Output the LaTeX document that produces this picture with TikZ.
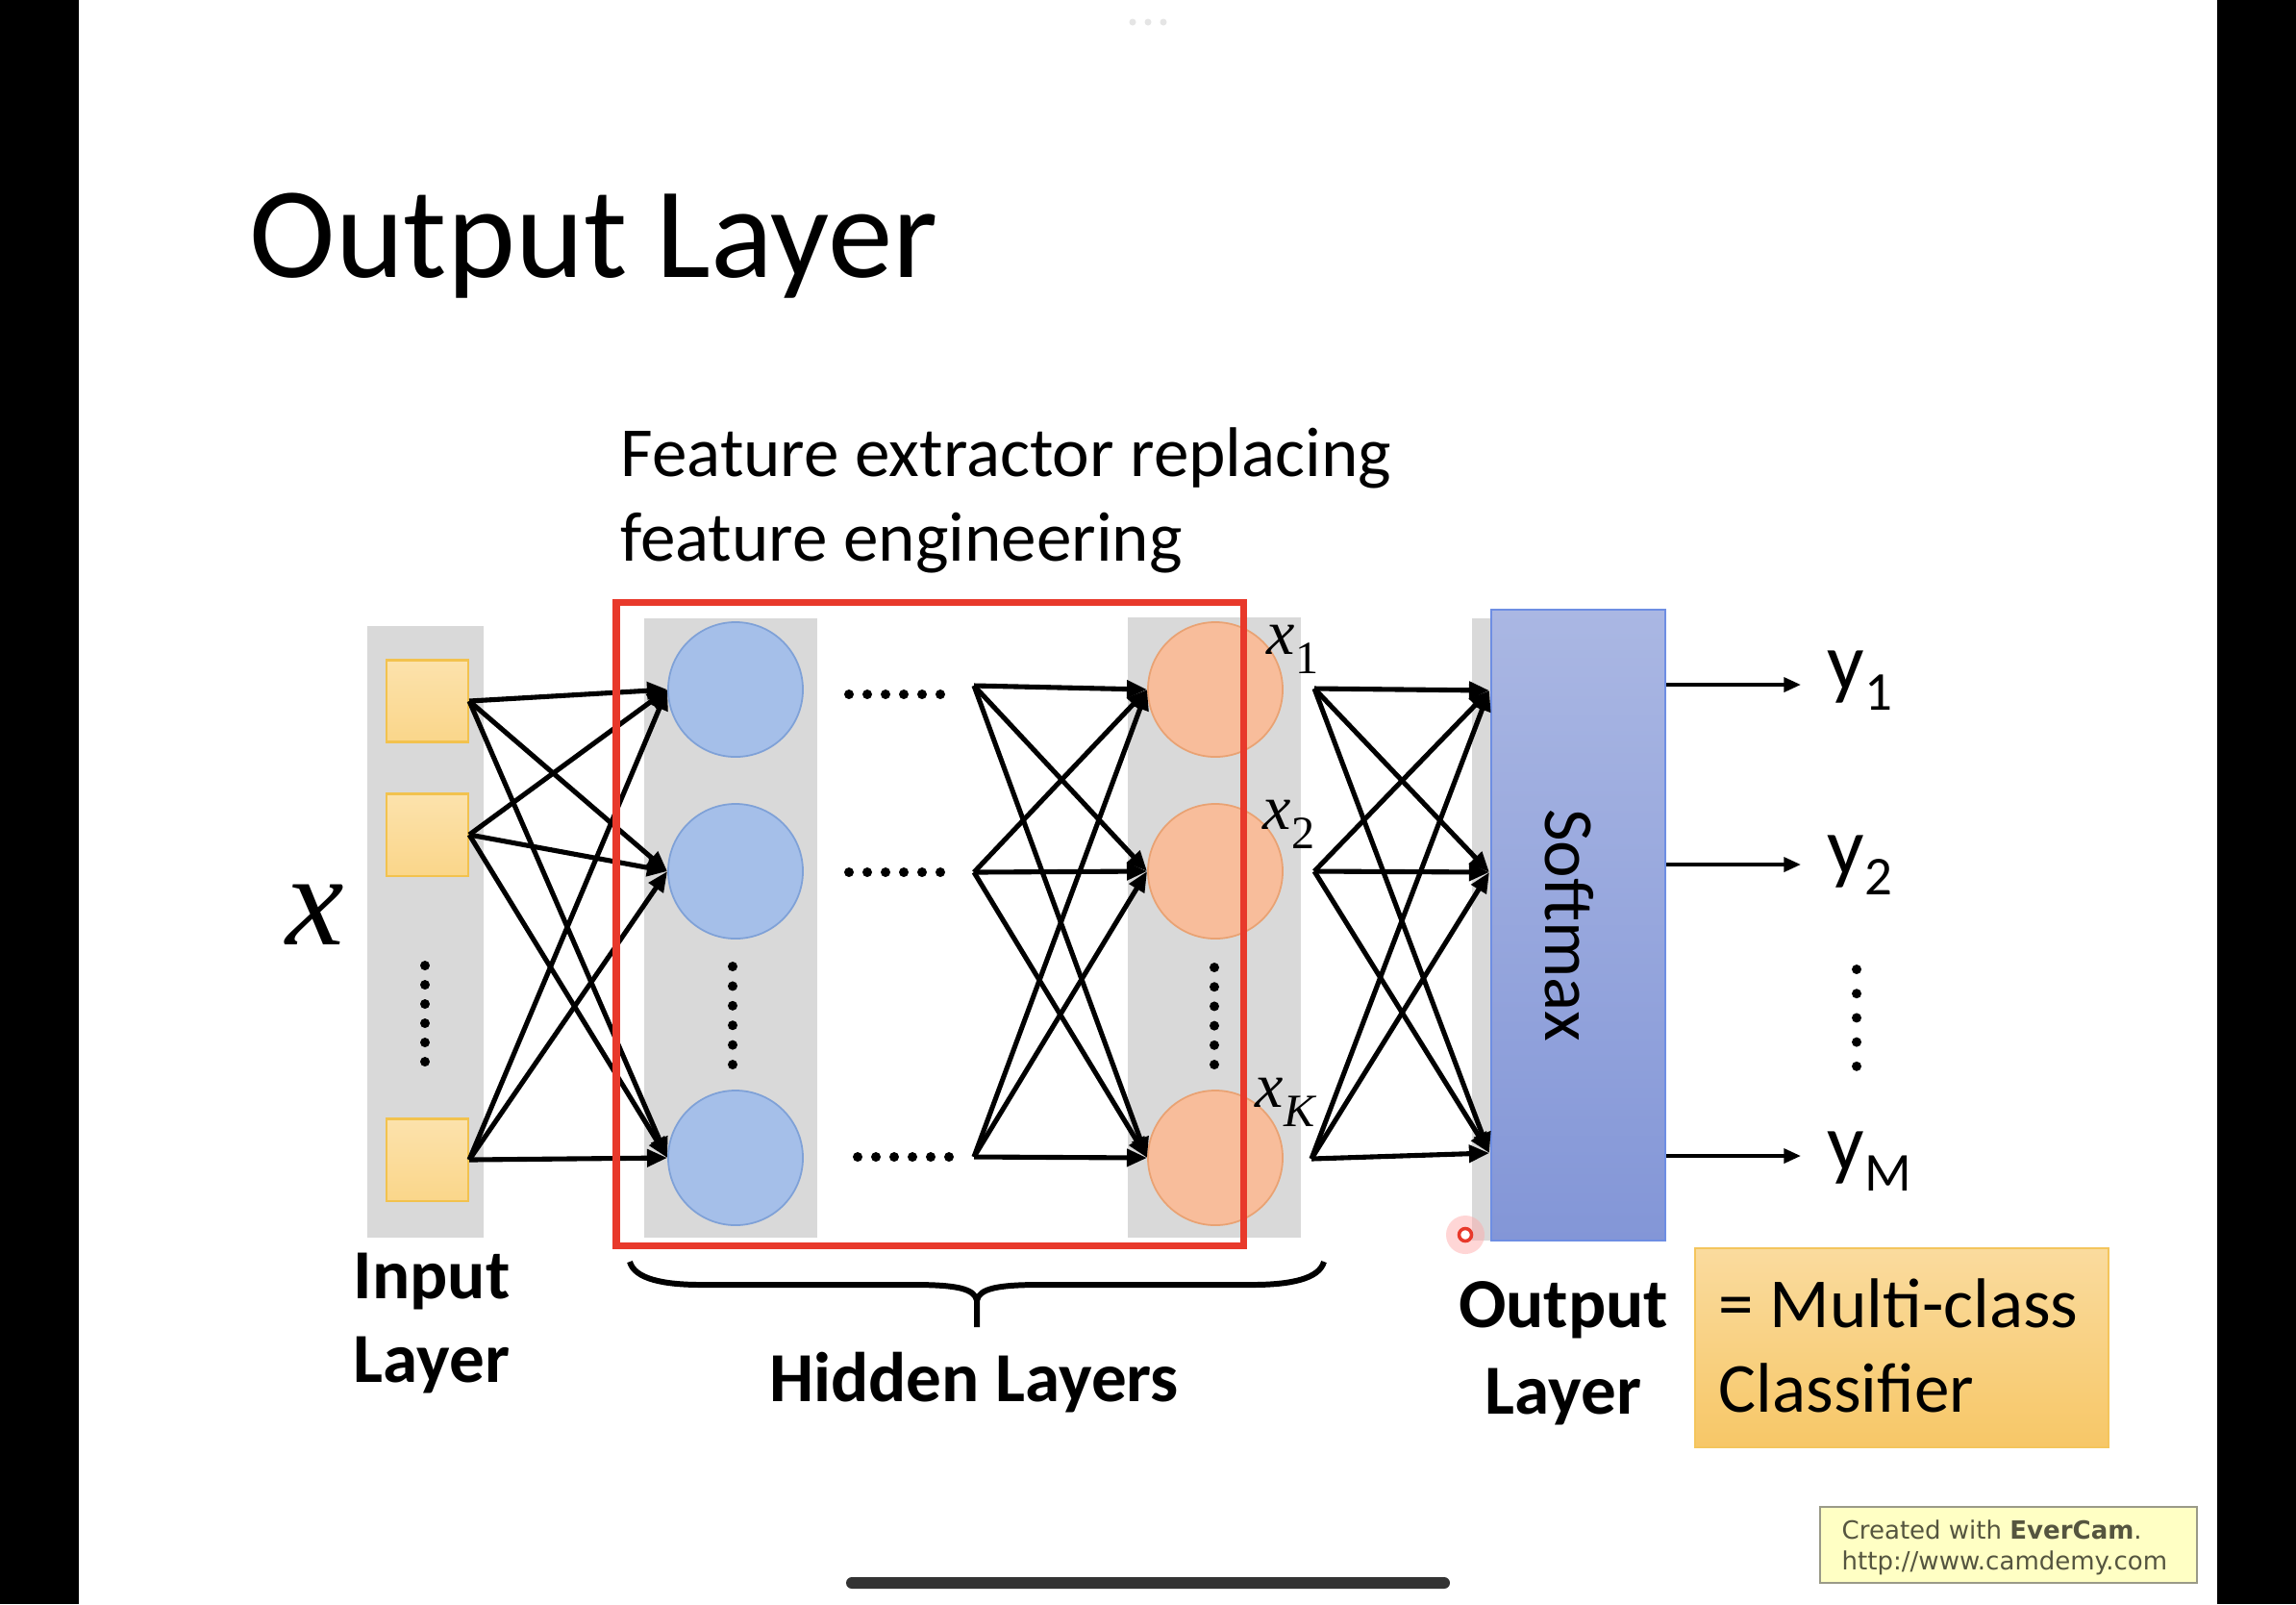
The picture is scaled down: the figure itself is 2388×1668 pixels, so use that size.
\documentclass[tikz,border=0pt]{standalone}
\usepackage{fontspec}
\setmainfont{Carlito}
\newfontfamily\tnr{Liberation Serif}
\newfontfamily\dvs{DejaVu Sans}
\usetikzlibrary{arrows.meta,calc}
\definecolor{colgray}{HTML}{D9D9D9}
\definecolor{sqfill}{HTML}{FAD68A}
\definecolor{sqtop}{HTML}{FCE2AC}
\definecolor{sqdraw}{HTML}{F2C24E}
\definecolor{bluefill}{HTML}{A5BFE9}
\definecolor{bluedraw}{HTML}{7FA1D7}
\definecolor{orfill}{HTML}{F8BD9B}
\definecolor{ordraw}{HTML}{E9A273}
\definecolor{smtop}{HTML}{AAB7E3}
\definecolor{smbot}{HTML}{8396D7}
\definecolor{smdraw}{HTML}{6E8EE3}
\definecolor{redbox}{HTML}{E8392B}
\definecolor{mctop}{HTML}{FADB9E}
\definecolor{mcbot}{HTML}{F7C767}
\definecolor{mcdraw}{HTML}{F4C55C}
\definecolor{ecfill}{HTML}{FFFFC4}
\definecolor{ecdraw}{HTML}{9A9A88}
\definecolor{ectext}{HTML}{55553F}
\begin{document}
\begin{tikzpicture}[x=0.01cm,y=-0.01cm,
  sqnode/.style={rectangle, minimum size=0.85cm, inner sep=0, top color=sqtop, bottom color=sqfill, draw=sqdraw, line width=0.6pt},
  bluenode/.style={circle, minimum size=1.4cm, inner sep=0, fill=bluefill, draw=bluedraw, line width=0.5pt},
  ornode/.style={circle, minimum size=1.4cm, inner sep=0, fill=orfill, draw=ordraw, line width=0.5pt},
  conn/.style={-{Triangle[length=6pt,width=5pt]}, line width=1.45pt},
  outarrow/.style={-{Triangle[length=5pt,width=4.2pt]}, line width=1.1pt},
  txt/.style={inner sep=0, anchor=base west, font=\fontsize{20.8pt}{25pt}\selectfont},
  btxt/.style={inner sep=0, anchor=base, font=\fontsize{20.8pt}{25pt}\selectfont\bfseries},
  xlab/.style={inner sep=0, anchor=base west, font=\fontsize{18.8pt}{20pt}\selectfont\tnr\itshape},
  ylab/.style={inner sep=0, anchor=base west, font=\fontsize{24.2pt}{26pt}\selectfont},
]
\useasboundingbox (0,0) rectangle (2388,1668);
\fill[white] (0,0) rectangle (2388,1668);
% side bars
\fill[black] (0,0) rectangle (82,1668);
\fill[black] (2306,0) rectangle (2388,1668);
% top faint dots
\foreach \i in {0,1,2} \fill[black!10] (1178+\i*16,23) circle (0.035cm);

% title
\node[inner sep=0, anchor=base west, font=\fontsize{38.4pt}{42pt}\selectfont] (title) at (259,288) {Output Layer};

% feature text
\node[txt] (feat1) at (645,495) {Feature extractor replacing};
\node[txt] (feat2) at (645,583) {feature engineering};

% gray columns
\fill[colgray] (382,651) rectangle (503,1287);
\fill[colgray] (670,643) rectangle (850,1287);
\fill[colgray] (1173,642) rectangle (1353,1287);
\fill[colgray] (1531,643) rectangle (1551,1290);

% input squares
\node[sqnode] (sq1) at (444.5,729) {};
\node[sqnode] (sq2) at (444.5,868) {};
\node[sqnode] (sq3) at (444.5,1206) {};

% hidden blue
\node[bluenode] (hb1) at (765,717) {};
\node[bluenode] (hb2) at (765,906) {};
\node[bluenode] (hb3) at (765,1204) {};

% hidden orange
\node[ornode] (ho1) at (1264,717) {};
\node[ornode] (ho2) at (1264,906) {};
\node[ornode] (ho3) at (1264,1204) {};

% softmax
\node[rectangle, minimum width=1.81cm, minimum height=6.56cm, inner sep=0, top color=smtop, bottom color=smbot, draw=smdraw, line width=0.6pt] (sm) at (1641.5,962) {};
\node[rotate=-90, inner sep=0, font=\fontsize{20.8pt}{25pt}\selectfont] (smtext) at (1632,962) {Softmax};

% free-end coordinates
\coordinate (m1) at (1013,713);
\coordinate (m2) at (1013,907);
\coordinate (m3) at (1013,1203);
\coordinate (r1) at (1367,716);
\coordinate (r2) at (1367,906);
\coordinate (r3) at (1364,1205);
\coordinate (t1) at (1549,718);
\coordinate (t2) at (1549,907);
\coordinate (t3) at (1549,1199);
\coordinate (e1) at (1873,712);
\coordinate (e2) at (1873,899);
\coordinate (e3) at (1873,1202);

% connectors
\foreach \a in {1,2,3} \foreach \b in {1,2,3} \draw[conn] (sq\a.east) -- (hb\b.west);
\foreach \a in {1,2,3} \foreach \b in {1,2,3} \draw[conn] (m\a) -- (ho\b.west);
\foreach \a in {1,2,3} \foreach \b in {1,2,3} \draw[conn] (r\a) -- (t\b);
\foreach \a in {1,2,3} \draw[outarrow] (sm.east |- e\a) -- (e\a);

% red box
\draw[redbox, line width=2pt] (641,626) rectangle (1293,1295);

% vertical dots
\foreach \i in {0,...,5} {
  \fill (442,1004+\i*20) circle (0.05cm);
  \fill (762,1005+\i*20.4) circle (0.05cm);
  \fill (1263,1006+\i*20.2) circle (0.05cm);
}
\foreach \i in {0,...,4} \fill (1931,1008+\i*25.2) circle (0.05cm);
% horizontal dots
\foreach \i in {0,...,5} {
  \fill (883+\i*19,722) circle (0.05cm);
  \fill (883+\i*19,907) circle (0.05cm);
  \fill (892+\i*19,1203) circle (0.05cm);
}

% x labels
\node[inner sep=0, anchor=base west, font=\fontsize{38.7pt}{40pt}\selectfont\tnr\itshape] (xin) at (297,982) {x};
\node[xlab] (x1) at (1317,680) {x\raisebox{-0.2cm}{\fontsize{13.7pt}{14pt}\selectfont\upshape 1}};
\node[xlab] (x2) at (1313,862) {x\raisebox{-0.2cm}{\fontsize{13.7pt}{14pt}\selectfont\upshape 2}};
\node[xlab] (xK) at (1305,1151) {x\raisebox{-0.2cm}{\fontsize{13.7pt}{14pt}\selectfont K}};

% y labels
\node[ylab] (y1) at (1900,717) {y\raisebox{-0.21cm}{\fontsize{16.2pt}{17pt}\selectfont 1}};
\node[ylab] (y2) at (1900,909) {y\raisebox{-0.21cm}{\fontsize{16.2pt}{17pt}\selectfont 2}};
\node[ylab] (yM) at (1900,1217) {y\raisebox{-0.21cm}{\fontsize{16.2pt}{17pt}\selectfont M}};

% brace
\draw[line width=1.7pt] (655,1312) .. controls (660,1330) and (690,1336) .. (730,1336) -- (950,1336) .. controls (995,1336) and (1013,1340) .. (1016,1352) -- (1016,1380);
\draw[line width=1.7pt] (1377,1312) .. controls (1372,1330) and (1342,1336) .. (1302,1336) -- (1082,1336) .. controls (1037,1336) and (1019,1340) .. (1016,1352);

% layer labels
\node[btxt, anchor=base west] (inl1) at (367,1350) {Input};
\node[btxt, anchor=base west] (inl2) at (367,1437) {Layer};
\node[btxt] (hidl) at (1013,1457) {Hidden Layers};
\node[btxt] (outl1) at (1626,1380) {Output};
\node[btxt] (outl2) at (1626,1470) {Layer};

% multi-class box
\draw[mcdraw, line width=0.6pt, top color=mctop, bottom color=mcbot] (1763,1298) rectangle (2193,1505);
\node[txt] (mc1) at (1787,1380) {= Multi-class};
\node[txt] (mc2) at (1787,1468) {Classifier};

% cursor mark
\fill[red!35, opacity=0.45] (1524,1284) circle (0.2cm);
\draw[redbox, line width=1pt, fill=white] (1524,1284) circle (0.065cm);

% EverCam watermark
\draw[ecdraw, fill=ecfill, line width=0.8pt] (1893,1567) rectangle (2285,1646);
\node[inner sep=0, anchor=base west, text=ectext, font=\fontsize{7.4pt}{9pt}\selectfont\dvs] (ec1) at (1915,1600) {Created with \textbf{EverCam}.};
\node[inner sep=0, anchor=base west, text=ectext, font=\fontsize{7.4pt}{9pt}\selectfont\dvs] (ec2) at (1915,1632) {http://www.camdemy.com};

% home bar
\fill[black!80, rounded corners=0.06cm] (880,1640) rectangle (1508,1652);
\end{tikzpicture}
\end{document}
